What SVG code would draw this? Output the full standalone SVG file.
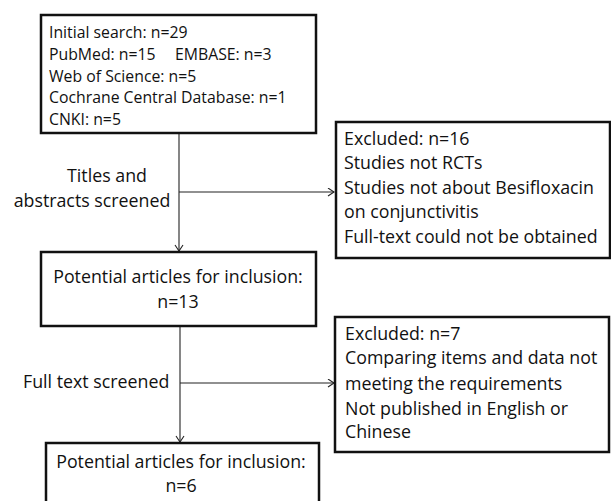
<svg xmlns="http://www.w3.org/2000/svg" width="611" height="501" viewBox="0 0 611 501">
<defs>
<marker id="arr" markerUnits="userSpaceOnUse" markerWidth="10" markerHeight="10" refX="7" refY="4.5" orient="auto">
<path d="M1,0.5 L7,4.5 L1,8.5" fill="none" stroke="#222" stroke-width="1.1"/>
</marker>
<style>
.box{fill:#fff;stroke:#111;stroke-width:2.5}
.t{font-family:"Open Sans","Noto Sans","Liberation Sans",sans-serif;font-size:17.8px;fill:#111}
.s{font-size:15.8px}
.c{text-anchor:middle}
.ln{fill:none;stroke:#222;stroke-width:1.1}
</style>
</defs>
<rect width="611" height="501" fill="#fff"/>
<g id="connectors">
<line class="ln" x1="179" y1="133" x2="179" y2="251" marker-end="url(#arr)"/>
<line class="ln" x1="179" y1="192" x2="334" y2="192" marker-end="url(#arr)"/>
<line class="ln" x1="180" y1="326" x2="180" y2="442" marker-end="url(#arr)"/>
<line class="ln" x1="180" y1="383" x2="334" y2="383" marker-end="url(#arr)"/>
</g>
<g id="label-titles">
<text class="t c" x="107" y="182">Titles and</text>
<text class="t c" x="92" y="207">abstracts screened</text>
</g>
<g id="label-fulltext">
<text class="t" x="23" y="388">Full text screened</text>
</g>
<g id="initial">
<rect class="box" x="41" y="15" width="275" height="118"/>
<text class="t s" x="49" y="38">Initial search: n=29</text>
<text class="t s" x="49" y="60">PubMed: n=15<tspan x="175">EMBASE: n=3</tspan></text>
<text class="t s" x="49" y="82">Web of Science: n=5</text>
<text class="t s" x="49" y="103">Cochrane Central Database: n=1</text>
<text class="t s" x="49" y="125">CNKI: n=5</text>
</g>
<g id="excluded1">
<rect class="box" x="336" y="122" width="274" height="136"/>
<text class="t" x="344" y="145">Excluded: n=16</text>
<text class="t" x="344" y="169">Studies not RCTs</text>
<text class="t" x="344" y="194">Studies not about Besifloxacin</text>
<text class="t" x="344" y="218">on conjunctivitis</text>
<text class="t" x="344" y="243">Full-text could not be obtained</text>
</g>
<g id="potential13">
<rect class="box" x="41" y="252" width="275" height="74"/>
<text class="t c" x="178" y="283">Potential articles for inclusion:</text>
<text class="t c" x="178" y="308">n=13</text>
</g>
<g id="excluded2">
<rect class="box" x="335" y="317" width="274" height="135"/>
<text class="t" x="345" y="340">Excluded: n=7</text>
<text class="t" x="345" y="364">Comparing items and data not</text>
<text class="t" x="345" y="390">meeting the requirements</text>
<text class="t" x="345" y="415">Not published in English or</text>
<text class="t" x="345" y="438">Chinese</text>
</g>
<g id="potential6">
<rect class="box" x="46" y="443" width="273" height="70"/>
<text class="t c" x="181" y="468">Potential articles for inclusion:</text>
<text class="t c" x="181" y="492">n=6</text>
</g>
</svg>
